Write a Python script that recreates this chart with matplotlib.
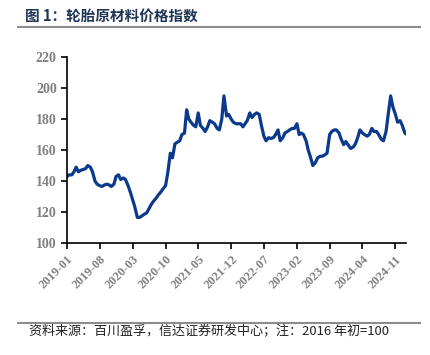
import matplotlib
matplotlib.use("Agg")
import matplotlib.pyplot as plt
import matplotlib.dates as mdates
from matplotlib.lines import Line2D
import pandas as pd

plt.rcParams['font.family'] = ['Noto Sans CJK SC', 'DejaVu Sans']

# semi-monthly readings of the index (2016 start = 100)
dates = pd.date_range("2019-01-01", "2025-01-15", freq="SMS")
values = [
    143, 144, 144, 146, 149, 146, 147, 147.5, 148, 150, 149, 146,
    140, 138, 137, 136.5, 137.5, 138, 137.5, 136.5, 138, 143, 144, 141,
    142, 141, 137, 133, 128, 123.5, 116.5, 116.5, 117.5, 118.5, 119.5, 122,
    125, 127, 129, 131, 133, 135, 137, 145, 158, 155, 164, 165,
    166, 170, 171, 186, 180, 178, 176, 175, 184, 176, 174, 172,
    175, 179, 178, 177, 174, 173, 180, 195, 182, 183, 180, 178,
    177, 177, 177, 175, 177, 179, 184, 181, 183, 184, 183, 176,
    169, 166, 168, 167.5, 168, 170, 173, 166, 168, 171, 172, 173,
    174, 174, 177, 170, 171, 170, 166, 160, 155, 150, 152, 155,
    156, 156, 157, 158, 170, 172, 173, 173, 171, 167, 163.5, 165.5,
    163, 161, 162, 164, 168, 173, 171, 170, 169, 170, 174, 172,
    172, 170, 167, 166, 172, 183, 195, 188, 183, 178, 179, 176,
    171, 170,
]
tick_dates = pd.date_range("2019-01-01", "2024-11-01", freq="7MS")
yticks = [100, 120, 140, 160, 180, 200, 220]

title = "图 1：轮胎原材料价格指数"
source = "资料来源：百川盈孚，信达证券研发中心；注：2016 年初=100"

fig = plt.figure(figsize=(4.3, 3.55), dpi=100)
ax = fig.add_axes([0.156, 0.3155, 0.788, 0.5235])

ax.plot(dates, values, color="#0b3a8c", linewidth=2.3)

ax.set_ylim(100, 220)
ax.set_yticks(yticks)
ax.set_xlim(dates[0], pd.Timestamp("2025-01-08"))
ax.set_xticks(tick_dates)
ax.xaxis.set_major_formatter(mdates.DateFormatter("%Y-%m"))

for s in ["top", "right"]:
    ax.spines[s].set_visible(False)
for s in ["left", "bottom"]:
    ax.spines[s].set_linewidth(1.2)
ax.tick_params(direction="out", length=4, width=1.2, colors="black")

for lab in ax.get_yticklabels():
    lab.set_fontfamily("Liberation Serif")
    lab.set_fontweight("bold")
    lab.set_fontsize(10)
    lab.set_color("#808080")
for lab in ax.get_xticklabels():
    lab.set_fontfamily("Liberation Serif")
    lab.set_fontweight("bold")
    lab.set_fontsize(9)
    lab.set_color("#808080")
    lab.set_rotation(45)
    lab.set_ha("right")
    lab.set_rotation_mode("anchor")

fig.text(0.058, 0.955, title, fontsize=10.5, fontweight="bold",
         color="#1f3556", va="center", ha="left")
fig.add_artist(Line2D([0.042, 0.977], [0.924, 0.924], color="#8c8c8c",
                      linewidth=1.5, transform=fig.transFigure))
fig.add_artist(Line2D([0.042, 0.977], [0.09, 0.09], color="#8c8c8c",
                      linewidth=1.5, transform=fig.transFigure))
fig.text(0.068, 0.065, source, fontsize=9.4, fontstyle="italic",
         color="#222222", va="center", ha="left")

fig.savefig("out.png", dpi=100)
